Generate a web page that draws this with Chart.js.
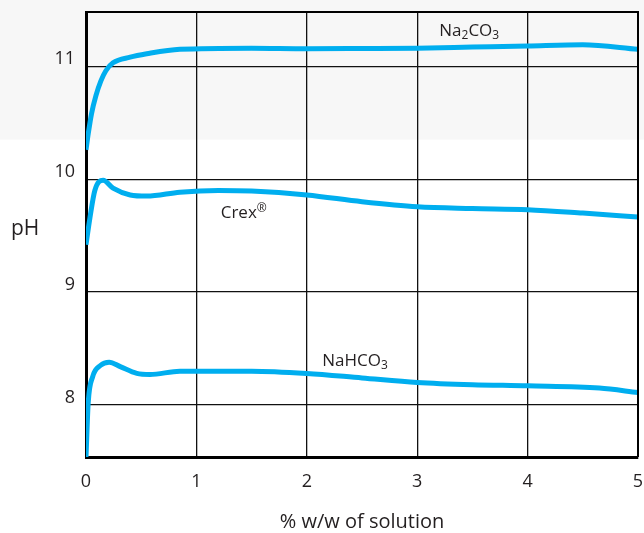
<!DOCTYPE html>
<html>
<head>
<meta charset="utf-8">
<script src="https://cdn.jsdelivr.net/npm/chart.js@4/dist/chart.umd.min.js"></script>
<style>
    html, body { margin: 0; padding: 0; background: #fff; }
    #wrap { width: 644px; height: 533px; position: relative; }
</style>
</head>
<body>
<div id="wrap"><canvas id="phChart" width="644" height="533"></canvas></div>
<script>
// % w/w of solution (x) and pH readings for each curve
const na2co3X = [0, 0.02, 0.05, 0.09, 0.135, 0.18, 0.245, 0.4, 0.55, 0.85, 1.5, 2, 2.5, 3, 3.5, 4, 4.5, 5];
const na2co3Y = [10.26, 10.4, 10.58, 10.74, 10.87, 10.96, 11.03, 11.08, 11.11, 11.15, 11.16, 11.155, 11.157, 11.16, 11.17, 11.18, 11.19, 11.15];

const crexX = [0, 0.036, 0.08, 0.155, 0.245, 0.4, 0.55, 0.85, 1.2, 1.5, 2, 2.5, 3, 3.5, 4, 4.5, 5];
const crexY = [9.42, 9.66, 9.9, 9.99, 9.92, 9.86, 9.85, 9.885, 9.9, 9.895, 9.86, 9.8, 9.755, 9.74, 9.73, 9.7, 9.665];

const nahco3X = [0, 0.02, 0.06, 0.13, 0.21, 0.31, 0.46, 0.58, 0.85, 1.5, 2, 2.5, 3, 3.5, 4, 4.65, 5];
const nahco3Y = [7.54, 8.02, 8.25, 8.35, 8.38, 8.34, 8.28, 8.27, 8.3, 8.3, 8.28, 8.24, 8.2, 8.18, 8.17, 8.15, 8.11];

const xTicks = [0, 1, 2, 3, 4, 5];
const yTicks = [8, 9, 10, 11];

const FONT = "'Open Sans', 'DejaVu Sans', sans-serif";
const INK = '#231f20';
const LINE = '#00aeef';

function toPoints(xs, ys) {
    return xs.map((x, i) => ({ x: x, y: ys[i] }));
}

// no extra room for overhanging tick labels
function noPad(s) {
    s.paddingLeft = 0;
    s.paddingRight = 0;
    s.paddingTop = 0;
    s.paddingBottom = 0;
}

// background band, outer frame, axis titles and curve labels
const decorPlugin = {
    id: 'decor',
    beforeDraw(chart) {
        const ctx = chart.ctx;
        const y = chart.scales.y;
        ctx.save();
        ctx.fillStyle = '#f7f7f7';
        ctx.fillRect(0, 0, chart.width, y.getPixelForValue(10.35));
        ctx.restore();
    },
    afterDatasetsDraw(chart) {
        const ctx = chart.ctx;
        const a = chart.chartArea;
        const x = chart.scales.x;
        const y = chart.scales.y;
        ctx.save();
        ctx.strokeStyle = '#000';
        ctx.lineWidth = 2;
        ctx.beginPath();
        ctx.moveTo(a.left, a.top);
        ctx.lineTo(a.right, a.top);
        ctx.lineTo(a.right, a.bottom);
        ctx.stroke();

        ctx.fillStyle = INK;
        ctx.textBaseline = 'alphabetic';

        // axis titles
        ctx.font = '21px ' + FONT;
        ctx.textAlign = 'left';
        ctx.fillText('pH', 11, 235);
        ctx.font = '20px ' + FONT;
        ctx.textAlign = 'center';
        ctx.fillText('% w/w of solution', (a.left + a.right) / 2, 528);

        // curve labels with subscripts
        drawChem(ctx, [['Na', 0], ['2', 1], ['CO', 0], ['3', 1]], x.getPixelForValue(3.2), y.getPixelForValue(11.27));
        drawChem(ctx, [['NaHCO', 0], ['3', 1]], x.getPixelForValue(2.14), y.getPixelForValue(8.35));
        drawChem(ctx, [['Crex', 0], ['®', 2]], x.getPixelForValue(1.22), y.getPixelForValue(9.66));
        ctx.restore();
    }
};

function drawChem(ctx, parts, px, py) {
    ctx.textAlign = 'left';
    let cx = px;
    parts.forEach(p => {
        const txt = p[0], kind = p[1];
        if (kind === 0) {
            ctx.font = '17px ' + FONT;
            ctx.fillText(txt, cx, py);
        } else if (kind === 1) {
            ctx.font = '12px ' + FONT;
            ctx.fillText(txt, cx, py + 3);
        } else {
            ctx.font = '12px ' + FONT;
            ctx.fillText(txt, cx, py - 6);
        }
        cx += ctx.measureText(txt).width;
    });
}

const ctx = document.getElementById('phChart').getContext('2d');
const phChart = new Chart(ctx, {
    type: 'line',
    data: {
        datasets: [
            { label: 'Na2CO3', data: toPoints(na2co3X, na2co3Y) },
            { label: 'Crex', data: toPoints(crexX, crexY) },
            { label: 'NaHCO3', data: toPoints(nahco3X, nahco3Y) }
        ]
    },
    options: {
        responsive: false,
        animation: false,
        layout: { padding: { top: 12, right: 6, left: 0, bottom: 0 } },
        elements: {
            line: { borderColor: LINE, borderWidth: 5, cubicInterpolationMode: 'monotone', fill: false, borderCapStyle: 'butt' },
            point: { radius: 0, hoverRadius: 0 }
        },
        plugins: {
            legend: { display: false },
            tooltip: { enabled: false }
        },
        scales: {
            x: {
                type: 'linear',
                min: 0,
                max: 5,
                afterBuildTicks: s => { s.ticks = xTicks.map(v => ({ value: v })); },
                afterFit: s => { s.height = 76; noPad(s); },
                grid: { color: '#111', lineWidth: 1.3, drawTicks: false },
                border: { color: '#000', width: 3 },
                ticks: { color: INK, font: { family: FONT, size: 18 }, padding: 14, maxRotation: 0 }
            },
            y: {
                type: 'linear',
                min: 7.54,
                max: 11.48,
                afterBuildTicks: s => { s.ticks = yTicks.map(v => ({ value: v })); },
                afterFit: s => { s.width = 86; noPad(s); },
                grid: { color: '#111', lineWidth: 1.3, drawTicks: false },
                border: { color: '#000', width: 3 },
                ticks: { color: INK, font: { family: FONT, size: 18 }, padding: 11, labelOffset: -7 }
            }
        }
    },
    plugins: [decorPlugin]
});
</script>
</body>
</html>
